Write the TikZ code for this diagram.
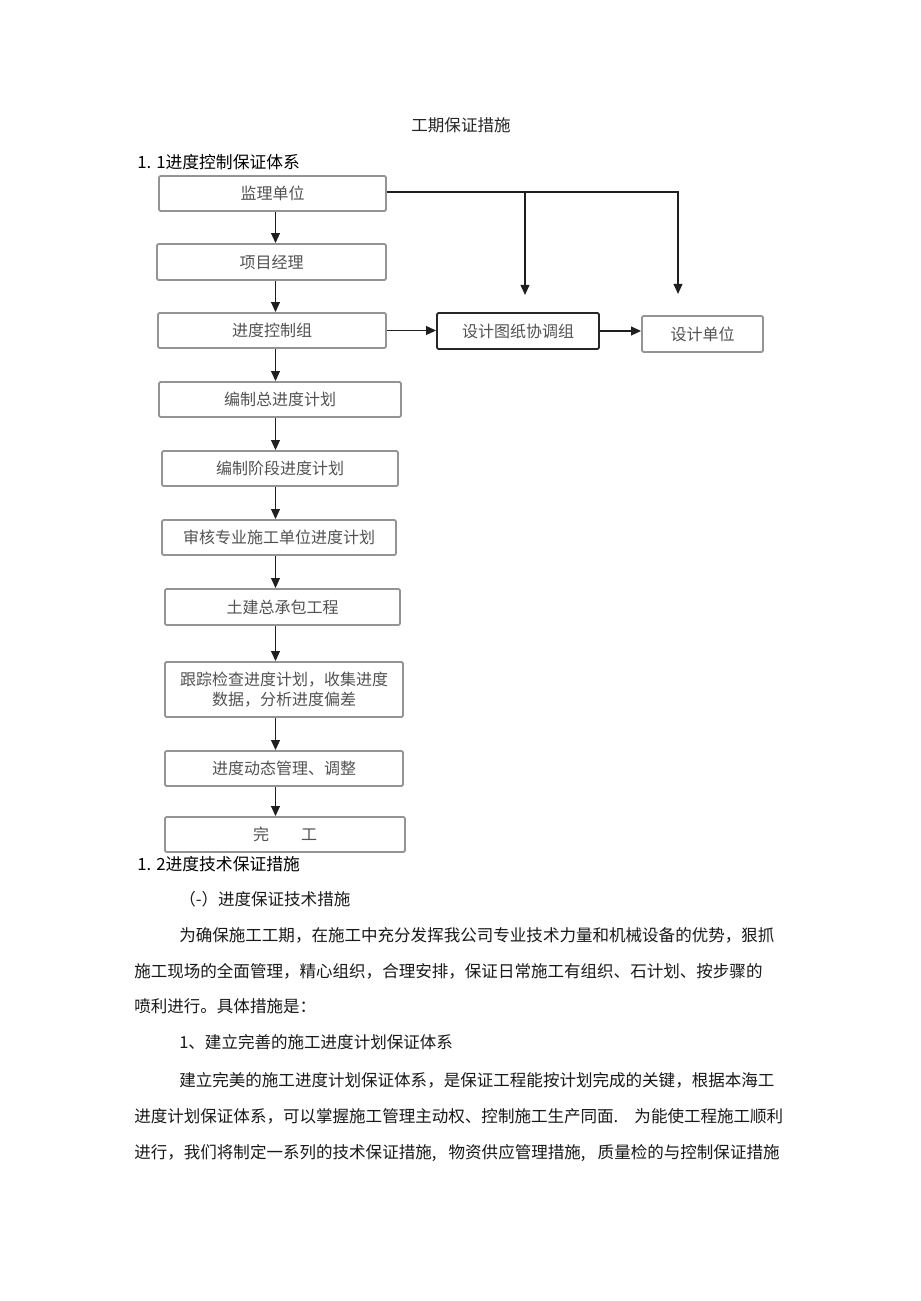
\documentclass[tikz,border=0pt]{standalone}
\usepackage{fontspec}
\setmainfont{Noto Sans CJK SC}
\usetikzlibrary{arrows.meta}
\XeTeXlinebreaklocale "zh"
\XeTeXlinebreakskip=0pt plus 3pt
\begin{document}
\begin{tikzpicture}[x=0.75pt,y=-0.75pt,
  box/.style={draw=black!42, line width=1.3pt, rounded corners=1pt, inner sep=0pt,
    text=black!68, font=\fontsize{12pt}{15pt}\selectfont, align=center},
  dbox/.style={box, draw=black!85},
  arr/.style={line width=1.25pt, draw=black!88, -{Triangle[length=7.5pt,width=6.5pt]}},
  cjk/.style={inner sep=0pt, text height=0.83em, text depth=0.07em},
  body/.style={cjk, anchor=west, text=black!90, font=\fontsize{12.4pt}{15pt}\selectfont},
  head/.style={cjk, anchor=west, text=black, font=\fontsize{12.6pt}{15pt}\selectfont}]
\fill[white] (0,0) rectangle (920,1301);
\useasboundingbox (0,0) rectangle (920,1301);

% headings
\node[cjk, text=black!85, font=\fontsize{12.4pt}{15pt}\selectfont] (title) at (461,126) {工期保证措施};
\node[head] (h1) at (137,163) {1. 1进度控制保证体系};

% flowchart boxes
\node[box, minimum width=170.25pt, minimum height=26.25pt] (jl) at (272.5,193.5) {监理单位};
\node[box, minimum width=171.75pt, minimum height=27pt] (xm) at (271.5,262) {项目经理};
\node[box, minimum width=171pt, minimum height=26.25pt] (jd) at (272,330.5) {进度控制组};
\node[dbox, minimum width=121.5pt, minimum height=27pt] (sj) at (518,331) {设计图纸协调组};
\node[box, minimum width=90.75pt, minimum height=27pt] (sd) at (702.5,334) {设计单位};
\node[box, minimum width=181.5pt, minimum height=26.25pt] (b1) at (280,399.5) {编制总进度计划};
\node[box, minimum width=177pt, minimum height=26.25pt] (b2) at (280,468.5) {编制阶段进度计划};
\node[box, minimum width=175.5pt, minimum height=26.25pt] (b3) at (279,537.5) {审核专业施工单位进度计划};
\node[box, minimum width=176.25pt, minimum height=27pt] (b4) at (282.5,607) {土建总承包工程};
\node[box, minimum width=178.5pt, minimum height=41.25pt] (b5) at (284,689.5) {跟踪检查进度计划，收集进度\\数据，分析进度偏差};
\node[box, minimum width=178.5pt, minimum height=26.25pt] (b6) at (284,768.5) {进度动态管理、调整};
\node[box, minimum width=180pt, minimum height=26.25pt] (b7) at (285,834.5) {完\hspace{2em}工};

% connectors
\coordinate (sp) at (275.5,0);
\draw[arr] (jl.south -| sp) -- (xm.north -| sp);
\draw[arr] (xm.south -| sp) -- (jd.north -| sp);
\draw[arr] (jd.south -| sp) -- (b1.north -| sp);
\draw[arr] (b1.south -| sp) -- (b2.north -| sp);
\draw[arr] (b2.south -| sp) -- (b3.north -| sp);
\draw[arr] (b3.south -| sp) -- (b4.north -| sp);
\draw[arr] (b4.south -| sp) -- (b5.north -| sp);
\draw[arr] (b5.south -| sp) -- (b6.north -| sp);
\draw[arr] (b6.south -| sp) -- (b7.north -| sp);

\coordinate (c1) at (525,192);
\coordinate (c2) at (678,192);
\coordinate (e1) at (525,295);
\coordinate (e2) at (678,294);
\draw[arr] (jl.east |- c1) -- (c2) -- (e2);
\draw[arr] (c1) -- (e1);
\draw[arr] (jd.east) -- (jd.east -| sj.west);
\draw[arr] (sj.east) -- (sj.east -| sd.west);

% section 1.2 text
\node[head] (h2) at (137,865) {1. 2进度技术保证措施};
\node[body] (s1) at (179,900) {（-）进度保证技术措施};
\node[body] (p1) at (179,936) {\hbox to 453pt{为确保施工工期，在施工中充分发挥我公司专业技术力量和机械设备的优势，狠抓}};
\node[body] (p2) at (134,972) {\hbox to 486.75pt{施工现场的全面管理，精心组织，合理安排，保证日常施工有组织、石计划、按步骤的}};
\node[body] (p3) at (134,1007) {喷利进行。具体措施是：};
\node[body] (s2) at (179,1043) {1、建立完善的施工进度计划保证体系};
\node[body] (q1) at (179,1081) {\hbox to 453pt{建立完美的施工进度计划保证体系，是保证工程能按计划完成的关键，根据本海工}};
\node[body] (q2) at (134,1117) {\hbox to 486.75pt{进度计划保证体系，可以掌握施工管理主动权、控制施工生产同面. 为能使工程施工顺利}};
\node[body] (q3) at (134,1153) {\hbox to 484pt{进行，我们将制定一系列的技术保证措施, 物资供应管理措施, 质量检的与控制保证措施}};
\end{tikzpicture}
\end{document}
